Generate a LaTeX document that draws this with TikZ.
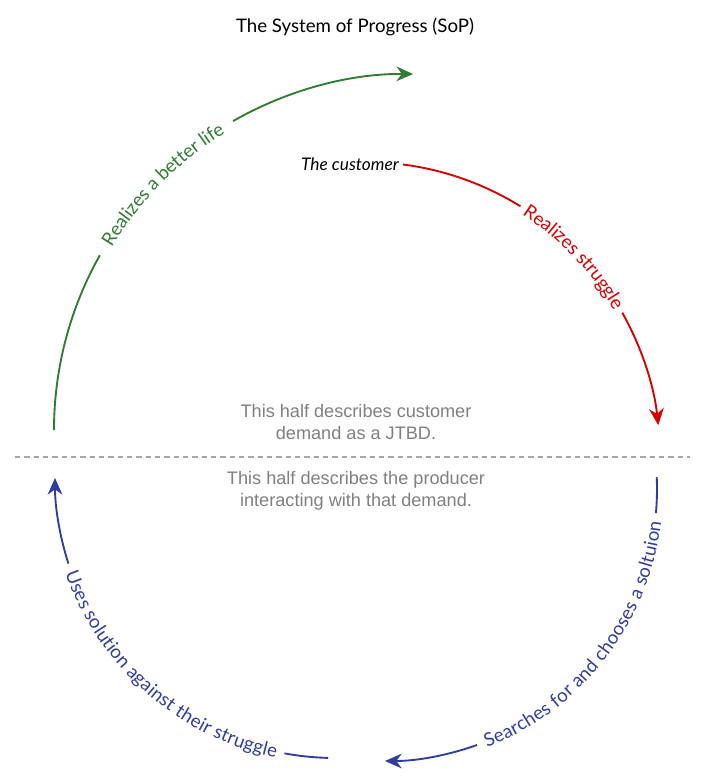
\documentclass[tikz,border=0pt]{standalone}
\usepackage{fontspec}
\setmainfont{Lato}
\newfontfamily\notefont{Liberation Sans}
\usetikzlibrary{positioning,arrows.meta,decorations.text}
\definecolor{sopgreen}{HTML}{2E7D32}
\definecolor{sopred}{HTML}{D50000}
\definecolor{sopblue}{HTML}{2F3E9E}
\definecolor{sopgray}{HTML}{808080}
\newcommand{\labfont}{\fontsize{14}{17}\selectfont}

\begin{document}
\begin{tikzpicture}[x=0.75pt,y=0.75pt,
  arcline/.style={line width=1.4pt},
  tip/.style={-{Stealth[length=12.5pt,width=11pt,inset=4pt]}},
  onarc/.style={decorate,decoration={text along path,text align=center,raise=-4.6pt}},
  note/.style={font=\notefont\fontsize{13.6}{16.5}\selectfont,text=sopgray,align=center}]
\useasboundingbox (0,0) rectangle (702,-784);
% centres of the four arcs
\coordinate (gc) at (410,-430);
\coordinate (rc) at (365,-457);
\coordinate (bc) at (385,-489);
\coordinate (uc) at (335,-478);

\node[font=\fontsize{14}{16}\selectfont] (title) at (355,-27) {The System of Progress (SoP)};

% top half: the customer
\coordinate (g0) at ([shift={(180:356)}]gc);
\coordinate (g1) at ([shift={(150.6:356)}]gc);
\coordinate (g2) at ([shift={(119.8:356)}]gc);
\draw[arcline,sopgreen] (g0) arc[start angle=180,end angle=150.6,radius=356];
\draw[arcline,sopgreen,tip] (g2) arc[start angle=119.8,end angle=89.5,radius=356];
\path[onarc,decoration={text color=sopgreen,text={|\labfont|Realizes a better life}}]
  ([shift={(175.2:356)}]gc) arc[start angle=175.2,end angle=95.2,radius=356];

\coordinate (r0) at ([shift={(82.6:295)}]rc);
\coordinate (r1) at ([shift={(58.2:295)}]rc);
\coordinate (r2) at ([shift={(29.3:295)}]rc);
\node[font=\fontsize{13}{15}\selectfont\itshape,left=3pt of r0,inner sep=0pt] (cust) {The customer};
\draw[arcline,sopred] (r0) arc[start angle=82.6,end angle=58.2,radius=295];
\draw[arcline,sopred,tip] (r2) arc[start angle=29.3,end angle=6.2,radius=295];
\path[onarc,decoration={text color=sopred,text={|\labfont|Realizes struggle}}]
  ([shift={(83.75:295)}]rc) arc[start angle=83.75,end angle=3.75,radius=295];

\node[note] (demand) at (356,-422) {This half describes customer\\demand as a JTBD.};

% the divide
\coordinate (dl) at (15,-457);
\coordinate (dr) at (690,-457);
\draw[sopgray!70,line width=1.2pt,dash pattern=on 4pt off 3pt] (dl) -- (dr);

% bottom half: the producer
\node[note] (producer) at (356,-491) {This half describes the producer\\interacting with that demand.};

\coordinate (b0) at ([shift={(2.5:272)}]bc);
\coordinate (b1) at ([shift={(-5.1:272)}]bc);
\coordinate (b2) at ([shift={(-70.2:272)}]bc);
\draw[arcline,sopblue] (b0) arc[start angle=2.5,end angle=-5.1,radius=272];
\draw[arcline,sopblue,tip] (b2) arc[start angle=-70.2,end angle=-90,radius=272];
\path[onarc,decoration={text color=sopblue,text={|\labfont|Searches for and chooses a soltuion}}]
  ([shift={(-77.65:272)}]bc) arc[start angle=-77.65,end angle=2.35,radius=272];

\coordinate (u0) at ([shift={(268.6:280)}]uc);
\coordinate (u1) at ([shift={(259.6:280)}]uc);
\coordinate (u2) at ([shift={(197.8:280)}]uc);
\draw[arcline,sopblue] (u0) arc[start angle=268.6,end angle=259.6,radius=280];
\draw[arcline,sopblue,tip] (u2) arc[start angle=197.8,end angle=180,radius=280];
\path[onarc,decoration={text color=sopblue,text={|\labfont|Uses solution against their struggle}}]
  ([shift={(188.7:280)}]uc) arc[start angle=188.7,end angle=268.7,radius=280];
\end{tikzpicture}
\end{document}
